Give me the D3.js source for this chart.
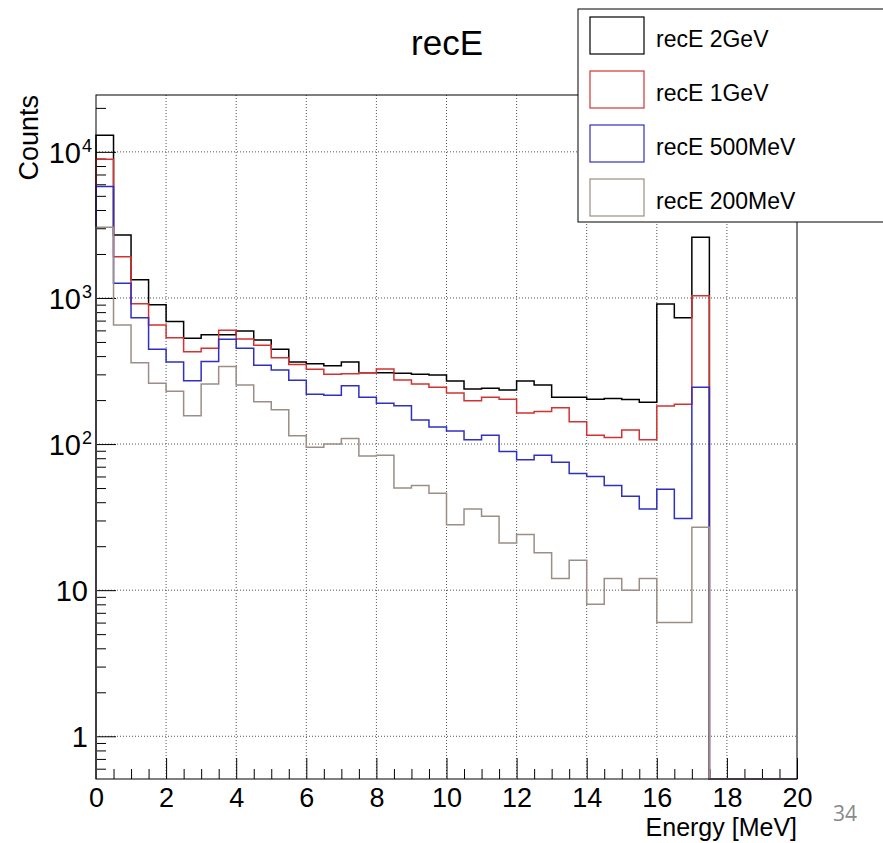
<!DOCTYPE html>
<html>
<head>
<meta charset="utf-8">
<script src="https://cdnjs.cloudflare.com/ajax/libs/d3/7.8.5/d3.min.js"></script>
<style>
  body { margin: 0; background: #fff; }
  text { font-family: "Liberation Sans", Arial, Helvetica, sans-serif; }
</style>
</head>
<body>
<div id="chart"></div>
<script>
(function () {

  // histogram bins: 40 bins of 0.5 MeV from 0 to 20
  let binWidth = 0.5;
  let nBins = 40;

  let counts2GeV = [13000, 2700, 1330, 900, 690, 530, 560, 560, 594, 515,
    445, 364, 355, 344, 365, 308, 308, 305, 300, 297,
    270, 238, 241, 234, 270, 254, 209, 209, 203, 205,
    202, 193, 910, 733, 2600, 0, 0, 0, 0, 0];

  let counts1GeV = [8900, 1915, 914, 653, 535, 428, 452, 601, 524, 474,
    390, 351, 325, 300, 303, 308, 327, 274, 258, 245,
    224, 198, 209, 203, 163, 167, 177, 142, 115, 111,
    125, 107, 182, 187, 1035, 0, 0, 0, 0, 0];

  let counts500MeV = [5800, 1260, 733, 445, 364, 271, 368, 521, 452, 346,
    321, 273, 219, 216, 251, 209, 190, 183, 146, 131,
    123, 107, 115, 89, 78, 84, 75, 63, 60, 52,
    44, 36, 49, 31, 245, 0, 0, 0, 0, 0];

  let counts200MeV = [3050, 653, 360, 261, 230, 156, 258, 340, 254, 195,
    172, 114, 95, 100, 109, 83, 84, 50, 52, 46,
    28, 36, 32, 21, 24, 18, 12, 16, 8, 12,
    10, 12, 6, 6, 27, 0, 0, 0, 0, 0];

  let seriesNames = ['recE 2GeV', 'recE 1GeV', 'recE 500MeV', 'recE 200MeV'];
  let seriesColors = ['#000000', '#d43232', '#2f2fc2', '#9c8e86'];
  let seriesData = [counts2GeV, counts1GeV, counts500MeV, counts200MeV];

  let xMajorTicks = [0, 2, 4, 6, 8, 10, 12, 14, 16, 18, 20];
  let yMajorTicks = [1, 10, 100, 1000, 10000];

  //frame
  let W = 883, H = 843;
  let frame = { left: 96, right: 797, top: 95, bottom: 779 };

  let svg = d3.select('#chart')
    .append('svg')
    .attr('width', W)
    .attr('height', H)
    .style('display', 'block');

  svg.append('rect')
    .attr('width', W)
    .attr('height', H)
    .attr('fill', '#fff');

  let xScale = d3.scaleLinear()
    .domain([0, 20])
    .range([frame.left, frame.right]);

  let yScale = d3.scaleLog()
    .domain([0.51, 24500])
    .range([frame.bottom, frame.top])
    .clamp(true);

  // minor ticks
  let xMinor = d3.range(0, 20.01, binWidth).filter(v => v % 2 !== 0);
  let yMinor = [];
  [0.1, 1, 10, 100, 1000, 10000].forEach(d => {
    for (let k = 2; k <= 9; k++) {
      let v = d * k;
      if (v >= 0.51 && v <= 24500) yMinor.push(v);
    }
  });

  //grid
  let grid = svg.append('g').attr('class', 'grid');
  grid.selectAll('line.gx')
    .data(xMajorTicks.filter(v => v > 0 && v < 20))
    .enter()
    .append('line')
    .attr('x1', d => xScale(d))
    .attr('x2', d => xScale(d))
    .attr('y1', frame.top)
    .attr('y2', frame.bottom)
    .attr('stroke', '#555')
    .attr('stroke-width', 1)
    .attr('stroke-dasharray', '1,2');

  grid.selectAll('line.gy')
    .data(yMajorTicks)
    .enter()
    .append('line')
    .attr('x1', frame.left)
    .attr('x2', frame.right)
    .attr('y1', d => yScale(d))
    .attr('y2', d => yScale(d))
    .attr('stroke', '#555')
    .attr('stroke-width', 1)
    .attr('stroke-dasharray', '1,2');

  // x axis ticks (inward)
  let xAxisMinor = d3.axisBottom(xScale)
    .tickValues(xMinor)
    .tickSize(-10)
    .tickFormat('');

  let xAxisMajor = d3.axisBottom(xScale)
    .tickValues(xMajorTicks)
    .tickSize(-21)
    .tickPadding(9)
    .tickFormat(d3.format('d'));

  svg.append('g')
    .attr('transform', `translate(0, ${frame.bottom})`)
    .call(xAxisMinor)
    .call(g => g.select('.domain').remove());

  let gx = svg.append('g')
    .attr('transform', `translate(0, ${frame.bottom})`)
    .call(xAxisMajor)
    .call(g => g.select('.domain').remove());

  gx.selectAll('text')
    .attr('font-size', 27)
    .attr('fill', '#000')
    .attr('font-family', '"Liberation Sans", Arial, sans-serif');

  // y axis ticks
  let yAxisMinor = d3.axisLeft(yScale)
    .tickValues(yMinor)
    .tickSize(-10)
    .tickFormat('');

  let yAxisMajor = d3.axisLeft(yScale)
    .tickValues(yMajorTicks)
    .tickSize(-20)
    .tickPadding(6)
    .tickFormat('');

  svg.append('g')
    .attr('transform', `translate(${frame.left}, 0)`)
    .call(yAxisMinor)
    .call(g => g.select('.domain').remove());

  let gy = svg.append('g')
    .attr('transform', `translate(${frame.left}, 0)`)
    .call(yAxisMajor)
    .call(g => g.select('.domain').remove());

  // y labels with superscript exponent
  gy.selectAll('.tick text')
    .attr('font-size', 29)
    .attr('fill', '#000')
    .attr('font-family', '"Liberation Sans", Arial, sans-serif')
    .attr('dy', '0.36em')
    .each(function (d) {
      let t = d3.select(this);
      let e = Math.round(Math.log10(d));
      if (e <= 1) {
        t.attr('x', -8).text(d3.format('d')(d));
      } else {
        t.attr('x', -4);
        t.append('tspan').text('10');
        t.append('tspan')
          .attr('font-size', 18)
          .attr('dy', '-0.62em')
          .attr('dx', 1)
          .text(e);
      }
    });

  svg.selectAll('.tick line').attr('stroke', '#000').attr('stroke-width', 1);

  // histograms
  let clipId = 'frameClip';
  svg.append('clipPath')
    .attr('id', clipId)
    .append('rect')
    .attr('x', frame.left - 1)
    .attr('y', frame.top)
    .attr('width', frame.right - frame.left + 2)
    .attr('height', frame.bottom - frame.top + 1);

  function histPath(values) {
    let pts = [[xScale(0), frame.bottom]];
    values.forEach((v, i) => {
      let yy = v > 0 ? yScale(v) : frame.bottom;
      pts.push([xScale(i * binWidth), yy]);
      pts.push([xScale((i + 1) * binWidth), yy]);
    });
    pts.push([xScale(nBins * binWidth), frame.bottom]);
    return d3.line()(pts);
  }

  svg.append('g')
    .attr('clip-path', `url(#${clipId})`)
    .selectAll('path.hist')
    .data(seriesData)
    .enter()
    .append('path')
    .attr('class', 'hist')
    .attr('d', d => histPath(d))
    .attr('fill', 'none')
    .attr('stroke', (d, i) => seriesColors[i])
    .attr('stroke-width', 1.5);

  //frame box
  svg.append('rect')
    .attr('x', frame.left)
    .attr('y', frame.top)
    .attr('width', frame.right - frame.left)
    .attr('height', frame.bottom - frame.top)
    .attr('fill', 'none')
    .attr('stroke', '#000')
    .attr('stroke-width', 1);

  // title
  svg.append('text')
    .attr('x', 447)
    .attr('y', 55)
    .attr('text-anchor', 'middle')
    .attr('font-size', 35)
    .text('recE');

  // axis titles
  svg.append('text')
    .attr('x', frame.right)
    .attr('y', 836)
    .attr('text-anchor', 'end')
    .attr('font-size', 25)
    .text('Energy [MeV]');

  svg.append('text')
    .attr('transform', `translate(38, ${frame.top}) rotate(-90)`)
    .attr('text-anchor', 'end')
    .attr('font-size', 27)
    .text('Counts');

  // legend
  let legend = svg.append('g');
  legend.append('rect')
    .attr('x', 578)
    .attr('y', 9)
    .attr('width', 320)
    .attr('height', 213)
    .attr('fill', '#fff')
    .attr('stroke', '#000')
    .attr('stroke-width', 1);

  let item = legend.selectAll('g.item')
    .data(seriesNames)
    .enter()
    .append('g')
    .attr('class', 'item')
    .attr('transform', (d, i) => `translate(0, ${i * 54})`);

  item.append('rect')
    .attr('x', 590)
    .attr('y', 17)
    .attr('width', 54)
    .attr('height', 37)
    .attr('fill', 'none')
    .attr('stroke', (d, i) => seriesColors[i])
    .attr('stroke-width', 1.2);

  item.append('text')
    .attr('x', 656)
    .attr('y', 47)
    .attr('font-size', 23)
    .text(d => d);

  // page number
  svg.append('text')
    .attr('x', 845)
    .attr('y', 821)
    .attr('text-anchor', 'middle')
    .attr('font-size', 21)
    .attr('fill', '#8a8a8a')
    .style('font-family', '"Open Sans", sans-serif')
    .text('34');

})();
</script>
</body>
</html>
